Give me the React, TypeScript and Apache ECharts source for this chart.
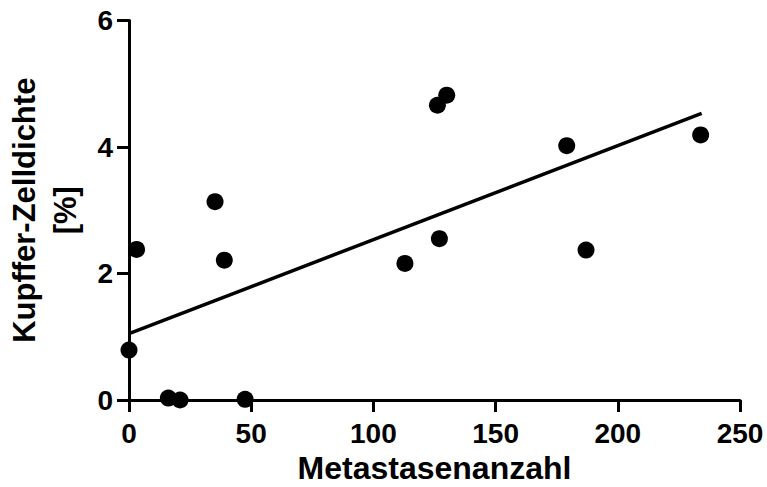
import React, { useEffect, useRef } from "react";
import * as echarts from "echarts";

const metastasen = [0, 3.1, 16.1, 20.9, 35.2, 39, 47.5, 112.9, 126.2, 127, 130, 179.1, 187, 233.9];
const kupffer = [0.79, 2.38, 0.03, 0, 3.135, 2.21, 0.01, 2.16, 4.66, 2.55, 4.82, 4.02, 2.37, 4.19];
const fitX = [0, 234.3];
const fitY = [1.05, 4.53];
const xTicks = [0, 50, 100, 150, 200, 250];
const yTicks = [0, 2, 4, 6];

const FONT = "'Liberation Sans', Arial, Helvetica, sans-serif";

export default function App() {
  const ref = useRef<HTMLDivElement>(null);
  useEffect(() => {
    if (!ref.current) return;
    const chart = echarts.init(ref.current, undefined, { renderer: "svg" });
    chart.setOption({
      animation: false,
      backgroundColor: "#ffffff",
      grid: { left: 129, right: 27, top: 20.5, bottom: 87, containLabel: false, outerBoundsMode: "none" },
      xAxis: {
        type: "value",
        min: xTicks[0],
        max: xTicks[xTicks.length - 1],
        interval: 50,
        name: "Metastasenanzahl",
        nameLocation: "middle",
        nameGap: 54,
        nameTextStyle: { color: "#000", fontWeight: "bold", fontSize: 32, fontFamily: FONT, lineHeight: 28 },
        axisLine: { show: true, lineStyle: { color: "#000", width: 3 } },
        axisTick: { show: true, length: 12, lineStyle: { color: "#000", width: 3 } },
        axisLabel: { color: "#000", fontWeight: "bold", fontSize: 28, fontFamily: FONT, margin: 19, lineHeight: 28 },
        splitLine: { show: false },
      },
      yAxis: {
        type: "value",
        min: yTicks[0],
        max: yTicks[yTicks.length - 1],
        interval: 2,
        name: "Kupffer-Zelldichte\n[%]",
        nameLocation: "middle",
        nameGap: 43,
        nameRotate: 90,
        nameTextStyle: { color: "#000", fontWeight: "bold", fontSize: 31, fontFamily: FONT, lineHeight: 41, align: "center" },
        axisLine: { show: true, lineStyle: { color: "#000", width: 3 } },
        axisTick: { show: true, length: 12, lineStyle: { color: "#000", width: 3 } },
        axisLabel: { color: "#000", fontWeight: "bold", fontSize: 28, fontFamily: FONT, margin: 16 },
        splitLine: { show: false },
      },
      series: [
        {
          type: "line",
          data: fitX.map((x, i) => [x, fitY[i]]),
          showSymbol: false,
          symbol: "none",
          lineStyle: { color: "#000", width: 3.5 },
          z: 2,
        },
        {
          type: "scatter",
          data: metastasen.map((x, i) => [x, kupffer[i]]),
          symbol: "circle",
          symbolSize: 17,
          itemStyle: { color: "#000", opacity: 1 },
          clip: false,
          z: 3,
        },
      ],
    });
    return () => chart.dispose();
  }, []);
  return (
    <div
      ref={ref}
      style={{ position: "fixed", left: 0, top: 0, width: 767, height: 487, background: "#fff" }}
    />
  );
}
